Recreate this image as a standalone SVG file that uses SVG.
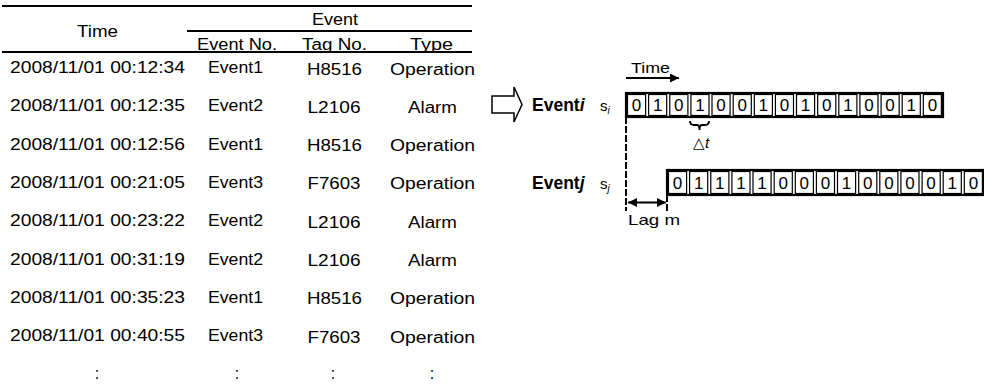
<svg xmlns="http://www.w3.org/2000/svg" width="984" height="385" viewBox="0 0 984 385">
<style>
text{font-family:"Liberation Sans",Arial,sans-serif;fill:#000}
.t{font-size:16px}
.c{text-anchor:middle}
.d{font-size:17px;text-anchor:middle}
.b{font-weight:bold;font-size:17.5px}
.rule{stroke:#000;stroke-width:2.2}
.cell{fill:#fff;stroke:#000;stroke-width:1.2}
.frame{fill:none;stroke:#000;stroke-width:2.2}
.ln{stroke:#000;stroke-width:1.8;fill:none}
.dash{stroke:#000;stroke-width:2;stroke-dasharray:7 2;fill:none}
</style>
<defs>
<marker id="ah" viewBox="0 0 10 10" refX="10" refY="5" markerWidth="5" markerHeight="5" orient="auto-start-reverse" markerUnits="strokeWidth"><path d="M0,0 L10,5 L0,10 Z" fill="#000"/></marker>
</defs>

<g id="table">
<line class="rule" x1="2" y1="6" x2="472" y2="6"/>
<line class="rule" x1="187" y1="31" x2="472" y2="31"/>
<line class="rule" x1="2" y1="52" x2="472" y2="52"/>
<text class="t c" x="97.5" y="37" textLength="41" lengthAdjust="spacingAndGlyphs">Time</text>
<text class="t c" x="335" y="25" textLength="46" lengthAdjust="spacingAndGlyphs">Event</text>
<text class="t c" x="237" y="50" textLength="80" lengthAdjust="spacingAndGlyphs">Event No.</text>
<text class="t c" x="334.5" y="50" textLength="65" lengthAdjust="spacingAndGlyphs">Tag No.</text>
<text class="t c" x="431.5" y="50" textLength="43" lengthAdjust="spacingAndGlyphs">Type</text>

<g id="r1"><text class="t" x="10" y="73" textLength="175" lengthAdjust="spacingAndGlyphs">2008/11/01 00:12:34</text><text class="t c" x="235.5" y="73" textLength="55" lengthAdjust="spacingAndGlyphs">Event1</text><text class="t c" x="334.5" y="74.5" textLength="55" lengthAdjust="spacingAndGlyphs">H8516</text><text class="t c" x="432.5" y="74.5" textLength="85" lengthAdjust="spacingAndGlyphs">Operation</text></g>
<g id="r2"><text class="t" x="10" y="111.3" textLength="175" lengthAdjust="spacingAndGlyphs">2008/11/01 00:12:35</text><text class="t c" x="235.5" y="111.3" textLength="55" lengthAdjust="spacingAndGlyphs">Event2</text><text class="t c" x="334" y="112.8" textLength="53" lengthAdjust="spacingAndGlyphs">L2106</text><text class="t c" x="432.5" y="112.8" textLength="49" lengthAdjust="spacingAndGlyphs">Alarm</text></g>
<g id="r3"><text class="t" x="10" y="149.6" textLength="175" lengthAdjust="spacingAndGlyphs">2008/11/01 00:12:56</text><text class="t c" x="235.5" y="149.6" textLength="55" lengthAdjust="spacingAndGlyphs">Event1</text><text class="t c" x="334.5" y="151.1" textLength="55" lengthAdjust="spacingAndGlyphs">H8516</text><text class="t c" x="432.5" y="151.1" textLength="85" lengthAdjust="spacingAndGlyphs">Operation</text></g>
<g id="r4"><text class="t" x="10" y="187.9" textLength="175" lengthAdjust="spacingAndGlyphs">2008/11/01 00:21:05</text><text class="t c" x="235.5" y="187.9" textLength="55" lengthAdjust="spacingAndGlyphs">Event3</text><text class="t c" x="334" y="189.4" textLength="53" lengthAdjust="spacingAndGlyphs">F7603</text><text class="t c" x="432.5" y="189.4" textLength="85" lengthAdjust="spacingAndGlyphs">Operation</text></g>
<g id="r5"><text class="t" x="10" y="226.2" textLength="175" lengthAdjust="spacingAndGlyphs">2008/11/01 00:23:22</text><text class="t c" x="235.5" y="226.2" textLength="55" lengthAdjust="spacingAndGlyphs">Event2</text><text class="t c" x="334" y="227.7" textLength="53" lengthAdjust="spacingAndGlyphs">L2106</text><text class="t c" x="432.5" y="227.7" textLength="49" lengthAdjust="spacingAndGlyphs">Alarm</text></g>
<g id="r6"><text class="t" x="10" y="264.5" textLength="175" lengthAdjust="spacingAndGlyphs">2008/11/01 00:31:19</text><text class="t c" x="235.5" y="264.5" textLength="55" lengthAdjust="spacingAndGlyphs">Event2</text><text class="t c" x="334" y="266" textLength="53" lengthAdjust="spacingAndGlyphs">L2106</text><text class="t c" x="432.5" y="266" textLength="49" lengthAdjust="spacingAndGlyphs">Alarm</text></g>
<g id="r7"><text class="t" x="10" y="302.8" textLength="175" lengthAdjust="spacingAndGlyphs">2008/11/01 00:35:23</text><text class="t c" x="235.5" y="302.8" textLength="55" lengthAdjust="spacingAndGlyphs">Event1</text><text class="t c" x="334.5" y="304.3" textLength="55" lengthAdjust="spacingAndGlyphs">H8516</text><text class="t c" x="432.5" y="304.3" textLength="85" lengthAdjust="spacingAndGlyphs">Operation</text></g>
<g id="r8"><text class="t" x="10" y="341.1" textLength="175" lengthAdjust="spacingAndGlyphs">2008/11/01 00:40:55</text><text class="t c" x="235.5" y="341.1" textLength="55" lengthAdjust="spacingAndGlyphs">Event3</text><text class="t c" x="334" y="342.6" textLength="53" lengthAdjust="spacingAndGlyphs">F7603</text><text class="t c" x="432.5" y="342.6" textLength="85" lengthAdjust="spacingAndGlyphs">Operation</text></g>
<g id="r9"><text class="t c" x="97" y="379">:</text><text class="t c" x="237" y="379">:</text><text class="t c" x="333" y="379">:</text><text class="t c" x="432" y="379">:</text></g>
</g>

<g id="connectors">
<path id="block-arrow" d="M492,96 L514,96 L514,87 L522,104.5 L514,122 L514,113 L492,113 Z" fill="#fff" stroke="#000" stroke-width="1.5" stroke-linejoin="miter"/>
<line class="ln" x1="626" y1="78" x2="679" y2="78" marker-end="url(#ah)"/>
<line class="dash" x1="626" y1="117" x2="626" y2="211"/>
<line class="dash" x1="667" y1="195" x2="667" y2="211"/>
<line class="ln" x1="628" y1="202.5" x2="666" y2="202.5" marker-start="url(#ah)" marker-end="url(#ah)"/>
<path class="ln" stroke-width="1.5" d="M690,121 Q690,125 694,125 L697,125 Q699.5,125 699.5,130 Q699.5,125 702,125 L705,125 Q709,125 709,121"/>
</g>

<g id="time-label"><text x="631" y="73" font-size="15" textLength="39" lengthAdjust="spacingAndGlyphs">Time</text></g>

<g id="event-i">
<text class="b" x="532" y="111">Event<tspan font-style="italic">i</tspan></text>
<text x="600" y="110.5" font-size="15">s<tspan font-size="10" font-style="italic" dy="3">i</tspan></text>
<rect class="frame" x="626" y="93" width="317" height="24"/>
<g class="cells">
<rect class="cell" x="627.5" y="94.5" width="18.1" height="21"/>
<rect class="cell" x="648.6" y="94.5" width="18.1" height="21"/>
<rect class="cell" x="669.8" y="94.5" width="18.1" height="21"/>
<rect class="cell" x="690.9" y="94.5" width="18.1" height="21"/>
<rect class="cell" x="712.0" y="94.5" width="18.1" height="21"/>
<rect class="cell" x="733.2" y="94.5" width="18.1" height="21"/>
<rect class="cell" x="754.3" y="94.5" width="18.1" height="21"/>
<rect class="cell" x="775.4" y="94.5" width="18.1" height="21"/>
<rect class="cell" x="796.5" y="94.5" width="18.1" height="21"/>
<rect class="cell" x="817.7" y="94.5" width="18.1" height="21"/>
<rect class="cell" x="838.8" y="94.5" width="18.1" height="21"/>
<rect class="cell" x="859.9" y="94.5" width="18.1" height="21"/>
<rect class="cell" x="881.1" y="94.5" width="18.1" height="21"/>
<rect class="cell" x="902.2" y="94.5" width="18.1" height="21"/>
<rect class="cell" x="923.3" y="94.5" width="18.1" height="21"/>
</g>
<g>
<text class="d" x="636.6" y="111">0</text><text class="d" x="657.7" y="111">1</text><text class="d" x="678.8" y="111">0</text><text class="d" x="700.0" y="111">1</text><text class="d" x="721.1" y="111">0</text><text class="d" x="742.2" y="111">0</text><text class="d" x="763.3" y="111">1</text><text class="d" x="784.5" y="111">0</text><text class="d" x="805.6" y="111">1</text><text class="d" x="826.7" y="111">0</text><text class="d" x="847.9" y="111">1</text><text class="d" x="869.0" y="111">0</text><text class="d" x="890.1" y="111">0</text><text class="d" x="911.3" y="111">1</text><text class="d" x="932.4" y="111">0</text>
</g>
</g>

<g id="delta-t"><text x="693" y="148" font-size="15">△<tspan font-style="italic">t</tspan></text></g>

<g id="event-j">
<text class="b" x="532" y="189">Event<tspan font-style="italic">j</tspan></text>
<text x="600" y="188.5" font-size="15">s<tspan font-size="10" font-style="italic" dy="3">j</tspan></text>
<rect class="frame" x="667" y="170" width="317" height="25"/>
<g class="cells">
<rect class="cell" x="668.5" y="171.5" width="18.1" height="22"/>
<rect class="cell" x="689.6" y="171.5" width="18.1" height="22"/>
<rect class="cell" x="710.8" y="171.5" width="18.1" height="22"/>
<rect class="cell" x="731.9" y="171.5" width="18.1" height="22"/>
<rect class="cell" x="753.0" y="171.5" width="18.1" height="22"/>
<rect class="cell" x="774.2" y="171.5" width="18.1" height="22"/>
<rect class="cell" x="795.3" y="171.5" width="18.1" height="22"/>
<rect class="cell" x="816.4" y="171.5" width="18.1" height="22"/>
<rect class="cell" x="837.5" y="171.5" width="18.1" height="22"/>
<rect class="cell" x="858.7" y="171.5" width="18.1" height="22"/>
<rect class="cell" x="879.8" y="171.5" width="18.1" height="22"/>
<rect class="cell" x="900.9" y="171.5" width="18.1" height="22"/>
<rect class="cell" x="922.1" y="171.5" width="18.1" height="22"/>
<rect class="cell" x="943.2" y="171.5" width="18.1" height="22"/>
<rect class="cell" x="964.3" y="171.5" width="18.1" height="22"/>
</g>
<g>
<text class="d" x="677.6" y="188.5">0</text><text class="d" x="698.7" y="188.5">1</text><text class="d" x="719.8" y="188.5">1</text><text class="d" x="741.0" y="188.5">1</text><text class="d" x="762.1" y="188.5">1</text><text class="d" x="783.2" y="188.5">0</text><text class="d" x="804.3" y="188.5">0</text><text class="d" x="825.5" y="188.5">0</text><text class="d" x="846.6" y="188.5">1</text><text class="d" x="867.7" y="188.5">0</text><text class="d" x="888.9" y="188.5">0</text><text class="d" x="910.0" y="188.5">0</text><text class="d" x="931.1" y="188.5">0</text><text class="d" x="952.3" y="188.5">1</text><text class="d" x="973.4" y="188.5">0</text>
</g>
</g>

<g id="lag-label"><text x="628" y="225" font-size="15" textLength="52" lengthAdjust="spacingAndGlyphs">Lag m</text></g>
</svg>
